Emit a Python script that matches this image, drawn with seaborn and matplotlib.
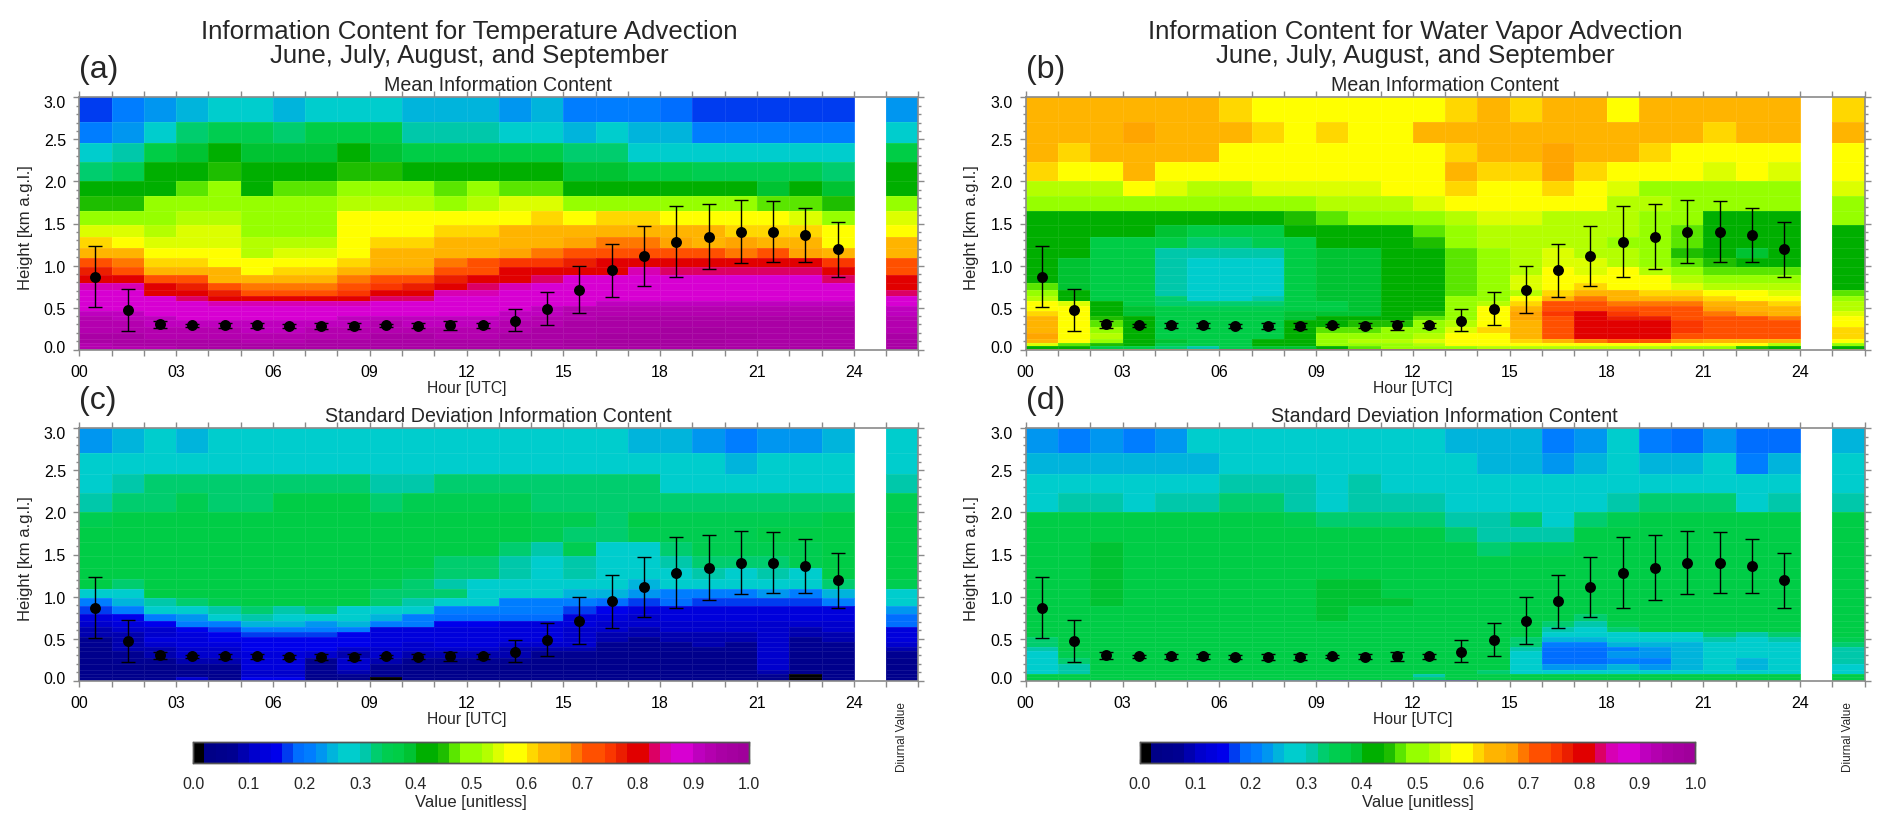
import matplotlib
matplotlib.use('Agg')
import matplotlib.pyplot as plt
from matplotlib.colors import ListedColormap
from matplotlib.ticker import FixedLocator
from matplotlib.transforms import ScaledTranslation
import numpy as np
import pandas as pd
import seaborn as sns

# Height bin edges in km, from the top of the panel down
HEIGHT_EDGES = [3.0, 2.711, 2.457, 2.227, 2.01, 1.823, 1.645, 1.486, 1.343, 1.213, 1.094, 0.983, 0.888, 0.797,
                0.713, 0.642, 0.575, 0.515, 0.456, 0.404, 0.357, 0.27, 0.194, 0.127, 0.08, 0.045, 0.01, 0.0]

# Values in 1/100 unit, one row per height bin, 24 hours and then the diurnal value
TEMP_MEAN = [
    [17, 20, 22, 25, 27, 27, 25, 27, 27, 27, 24, 24, 25, 22, 24, 20, 20, 20, 19, 17, 16, 16, 17, 16, 22],
    [20, 23, 27, 33, 35, 34, 33, 36, 36, 36, 31, 31, 31, 28, 28, 24, 27, 24, 24, 21, 21, 20, 20, 20, 28],
    [28, 30, 37, 39, 41, 39, 39, 39, 41, 39, 37, 37, 37, 36, 36, 32, 33, 27, 27, 27, 27, 26, 27, 27, 36],
    [33, 35, 43, 43, 45, 43, 43, 43, 45, 45, 43, 43, 43, 43, 43, 38, 39, 36, 36, 35, 34, 34, 35, 33, 41],
    [42, 42, 43, 46, 48, 43, 46, 47, 50, 50, 49, 46, 49, 46, 47, 43, 43, 43, 43, 43, 41, 39, 41, 39, 43],
    [45, 44, 49, 51, 51, 48, 51, 51, 53, 53, 52, 51, 53, 54, 55, 49, 51, 50, 50, 51, 50, 46, 47, 44, 49],
    [51, 51, 51, 52, 52, 51, 51, 51, 57, 58, 58, 58, 58, 58, 60, 58, 61, 61, 58, 58, 58, 56, 55, 50, 55],
    [55, 55, 53, 54, 54, 51, 51, 51, 58, 58, 58, 60, 60, 62, 63, 63, 63, 65, 63, 63, 61, 61, 60, 58, 58],
    [61, 58, 55, 55, 54, 52, 53, 53, 58, 61, 61, 63, 63, 63, 65, 67, 69, 69, 67, 65, 66, 65, 63, 59, 63],
    [63, 63, 58, 58, 57, 53, 55, 55, 58, 63, 63, 65, 65, 67, 69, 71, 71, 71, 71, 71, 69, 71, 67, 65, 65],
    [71, 69, 61, 60, 58, 56, 57, 57, 61, 64, 64, 69, 71, 74, 75, 77, 79, 80, 80, 80, 79, 79, 79, 75, 71],
    [77, 73, 63, 62, 62, 59, 61, 61, 65, 67, 67, 71, 73, 79, 80, 81, 81, 84, 83, 83, 83, 83, 83, 80, 73],
    [79, 79, 72, 71, 65, 65, 65, 65, 69, 71, 71, 77, 80, 79, 83, 87, 87, 87, 87, 87, 87, 87, 87, 83, 79],
    [85, 85, 78, 76, 71, 69, 69, 69, 71, 74, 77, 80, 82, 85, 87, 87, 87, 87, 87, 87, 87, 87, 87, 87, 80],
    [87, 87, 80, 79, 77, 73, 73, 73, 75, 79, 80, 84, 84, 87, 87, 87, 87, 87, 87, 87, 87, 87, 87, 87, 83],
    [87, 87, 87, 83, 79, 79, 79, 79, 79, 83, 83, 87, 87, 87, 87, 87, 89, 89, 89, 89, 89, 89, 89, 89, 87],
    [87, 87, 87, 87, 84, 84, 84, 84, 85, 87, 87, 87, 87, 87, 87, 89, 91, 91, 91, 91, 91, 91, 91, 91, 87],
    [89, 87, 87, 87, 87, 87, 87, 87, 87, 89, 89, 89, 89, 89, 91, 93, 93, 93, 93, 93, 93, 93, 93, 93, 91],
    [91, 91, 89, 89, 87, 87, 87, 87, 87, 89, 89, 89, 89, 91, 91, 93, 93, 93, 93, 93, 93, 93, 93, 93, 91],
    [93, 91, 91, 89, 89, 89, 89, 89, 91, 91, 91, 91, 91, 91, 93, 93, 95, 95, 95, 95, 95, 95, 95, 95, 93],
    [93, 93, 91, 91, 91, 91, 91, 91, 91, 93, 91, 91, 91, 93, 93, 95, 95, 95, 95, 95, 95, 95, 95, 95, 93],
    [93, 93, 93, 93, 93, 91, 91, 93, 93, 93, 93, 93, 93, 93, 95, 95, 95, 95, 97, 97, 95, 95, 95, 95, 93],
    [95, 95, 93, 93, 93, 93, 93, 93, 93, 95, 95, 93, 93, 95, 95, 95, 97, 97, 97, 97, 97, 95, 95, 95, 95],
    [95, 95, 95, 95, 95, 93, 93, 95, 95, 95, 95, 95, 95, 95, 95, 97, 97, 97, 97, 97, 95, 95, 95, 95, 95],
    [93, 95, 95, 95, 95, 95, 95, 95, 95, 95, 95, 95, 95, 95, 95, 97, 97, 97, 97, 97, 95, 95, 95, 95, 95],
    [93, 93, 93, 95, 95, 95, 95, 95, 95, 95, 95, 95, 95, 95, 95, 95, 95, 95, 95, 95, 95, 95, 95, 95, 95],
    [93, 93, 93, 93, 93, 93, 93, 93, 93, 93, 93, 93, 93, 93, 93, 93, 93, 93, 93, 93, 93, 93, 93, 93, 93],
]

VAPOR_MEAN = [
    [63, 64, 64, 65, 65, 63, 61, 58, 58, 58, 58, 58, 58, 61, 62, 61, 65, 65, 58, 63, 64, 62, 65, 65, 61],
    [65, 63, 64, 66, 65, 65, 63, 61, 59, 61, 58, 58, 62, 63, 65, 65, 65, 65, 62, 63, 65, 61, 64, 63, 63],
    [62, 60, 63, 65, 64, 62, 58, 58, 58, 58, 58, 58, 59, 60, 63, 63, 66, 64, 62, 60, 58, 58, 58, 58, 59],
    [60, 58, 58, 65, 58, 58, 58, 58, 58, 56, 57, 57, 59, 63, 61, 61, 66, 61, 59, 58, 56, 54, 58, 55, 59],
    [52, 52, 53, 58, 54, 53, 53, 55, 55, 55, 54, 57, 58, 60, 58, 58, 60, 58, 54, 51, 50, 50, 50, 51, 54],
    [51, 49, 49, 51, 50, 50, 51, 51, 51, 52, 53, 53, 54, 58, 58, 58, 58, 58, 53, 52, 50, 50, 50, 48, 51],
    [43, 43, 43, 43, 43, 43, 43, 43, 45, 47, 50, 51, 51, 53, 54, 54, 53, 53, 52, 51, 49, 43, 43, 43, 49],
    [43, 43, 41, 41, 38, 36, 36, 37, 43, 43, 43, 43, 47, 51, 52, 53, 53, 52, 52, 50, 47, 43, 42, 42, 43],
    [41, 41, 37, 37, 36, 33, 33, 34, 37, 41, 41, 42, 45, 50, 52, 53, 53, 52, 50, 49, 46, 41, 40, 41, 43],
    [41, 40, 36, 36, 31, 30, 30, 31, 37, 39, 39, 41, 43, 47, 50, 52, 54, 53, 52, 49, 45, 41, 39, 41, 41],
    [40, 38, 36, 36, 31, 29, 29, 29, 36, 39, 39, 41, 43, 46, 50, 52, 54, 54, 53, 51, 47, 45, 42, 41, 41],
    [40, 38, 36, 36, 31, 28, 28, 28, 36, 38, 38, 41, 43, 47, 50, 52, 56, 55, 57, 53, 50, 47, 46, 47, 41],
    [41, 39, 36, 36, 31, 28, 28, 28, 36, 38, 38, 41, 43, 46, 50, 54, 58, 58, 58, 56, 52, 50, 49, 50, 42],
    [47, 39, 36, 36, 31, 28, 28, 28, 36, 38, 38, 41, 43, 47, 49, 54, 58, 60, 58, 58, 55, 53, 53, 53, 43],
    [50, 40, 37, 36, 31, 29, 29, 29, 36, 38, 38, 41, 43, 47, 50, 52, 60, 65, 62, 61, 60, 58, 57, 54, 47],
    [53, 42, 37, 36, 32, 29, 29, 30, 36, 38, 38, 41, 43, 48, 51, 56, 63, 69, 65, 65, 62, 60, 58, 56, 49],
    [57, 54, 41, 36, 33, 33, 33, 33, 37, 37, 38, 41, 43, 50, 53, 61, 71, 72, 69, 68, 69, 64, 63, 60, 52],
    [59, 57, 43, 38, 36, 34, 34, 34, 37, 37, 38, 41, 43, 50, 56, 65, 73, 73, 71, 71, 71, 67, 65, 63, 53],
    [61, 57, 43, 39, 36, 36, 36, 36, 38, 38, 38, 41, 44, 50, 58, 67, 75, 79, 74, 73, 73, 69, 67, 65, 55],
    [63, 57, 45, 41, 37, 36, 36, 37, 39, 41, 41, 43, 46, 50, 58, 67, 71, 79, 77, 77, 73, 71, 71, 69, 57],
    [65, 57, 47, 42, 37, 36, 36, 37, 41, 43, 44, 45, 48, 52, 59, 65, 73, 79, 79, 79, 75, 73, 71, 71, 59],
    [65, 58, 50, 43, 37, 36, 36, 36, 41, 46, 47, 48, 50, 55, 60, 65, 73, 80, 81, 79, 75, 73, 73, 71, 61],
    [66, 58, 52, 43, 37, 36, 36, 36, 41, 50, 50, 50, 53, 57, 58, 65, 72, 80, 80, 79, 73, 73, 71, 71, 61],
    [62, 58, 50, 43, 38, 36, 36, 41, 43, 50, 53, 53, 55, 58, 59, 60, 65, 69, 72, 70, 67, 63, 63, 63, 59],
    [54, 46, 45, 42, 36, 36, 37, 43, 43, 48, 50, 50, 52, 57, 58, 58, 58, 58, 58, 58, 57, 57, 56, 53, 50],
    [42, 41, 37, 36, 33, 31, 35, 38, 39, 43, 46, 48, 50, 50, 53, 53, 52, 52, 53, 53, 49, 49, 45, 41, 41],
    [65, 65, 65, 65, 65, 65, 79, 79, 79, 79, 79, 79, 79, 79, 79, 75, 60, 60, 60, 60, 60, 60, 60, 60, 60],
]

TEMP_STD = [
    [23, 25, 27, 25, 28, 28, 28, 28, 28, 28, 28, 28, 28, 28, 28, 28, 28, 25, 25, 22, 20, 22, 22, 25, 27],
    [28, 28, 28, 28, 28, 28, 28, 28, 28, 28, 28, 28, 28, 28, 28, 28, 28, 28, 28, 28, 25, 26, 28, 28, 28],
    [28, 31, 32, 32, 32, 32, 33, 32, 32, 31, 31, 33, 33, 32, 32, 32, 32, 32, 28, 28, 28, 28, 28, 28, 31],
    [31, 32, 33, 34, 32, 32, 36, 36, 36, 32, 34, 34, 34, 34, 33, 33, 33, 33, 33, 32, 32, 32, 33, 33, 35],
    [35, 36, 36, 36, 36, 36, 36, 36, 36, 36, 36, 36, 36, 36, 34, 34, 33, 36, 35, 35, 35, 35, 35, 36, 36],
    [36, 36, 36, 36, 36, 36, 36, 36, 36, 36, 36, 36, 36, 36, 34, 33, 33, 35, 35, 35, 35, 36, 36, 36, 36],
    [36, 36, 36, 36, 36, 36, 36, 36, 36, 36, 36, 36, 36, 33, 31, 34, 29, 29, 33, 34, 34, 35, 35, 36, 36],
    [36, 36, 36, 36, 36, 36, 36, 36, 36, 36, 36, 33, 33, 31, 29, 31, 29, 29, 31, 33, 33, 33, 34, 36, 36],
    [36, 36, 36, 36, 36, 36, 36, 36, 36, 36, 34, 32, 32, 31, 28, 31, 29, 27, 29, 31, 29, 31, 29, 36, 36],
    [36, 33, 36, 36, 36, 36, 36, 36, 36, 34, 33, 31, 29, 29, 28, 28, 27, 25, 27, 27, 27, 29, 28, 33, 34],
    [28, 28, 36, 36, 36, 36, 36, 36, 36, 33, 33, 33, 28, 28, 27, 25, 24, 23, 21, 21, 21, 22, 21, 24, 28],
    [20, 24, 31, 33, 34, 36, 36, 36, 36, 33, 31, 27, 26, 21, 20, 20, 19, 17, 18, 17, 17, 17, 17, 21, 27],
    [17, 20, 27, 28, 31, 33, 31, 32, 29, 28, 28, 20, 20, 20, 21, 17, 15, 13, 13, 13, 13, 13, 13, 13, 23],
    [13, 15, 20, 23, 28, 30, 28, 28, 28, 24, 21, 19, 19, 19, 19, 13, 13, 11, 13, 13, 12, 12, 12, 13, 19],
    [11, 12, 15, 20, 21, 24, 24, 23, 24, 20, 20, 15, 15, 13, 13, 13, 11, 11, 11, 11, 11, 11, 11, 11, 19],
    [9, 11, 11, 15, 17, 20, 21, 21, 20, 13, 13, 13, 13, 13, 13, 11, 11, 9, 11, 11, 11, 11, 9, 11, 13],
    [9, 9, 11, 13, 15, 16, 17, 17, 15, 13, 13, 13, 13, 13, 13, 11, 9, 9, 9, 9, 9, 11, 9, 9, 13],
    [7, 9, 13, 13, 14, 15, 15, 15, 15, 13, 13, 13, 13, 13, 13, 11, 9, 7, 9, 9, 9, 11, 7, 9, 13],
    [7, 9, 11, 13, 13, 15, 15, 15, 15, 13, 11, 13, 13, 11, 11, 11, 7, 7, 7, 9, 7, 11, 7, 7, 11],
    [5, 9, 9, 11, 11, 15, 14, 14, 11, 11, 11, 11, 11, 9, 9, 9, 7, 5, 7, 7, 7, 11, 7, 7, 9],
    [5, 7, 9, 11, 11, 13, 13, 11, 9, 11, 9, 9, 9, 9, 7, 7, 5, 5, 5, 5, 5, 11, 5, 5, 7],
    [5, 7, 7, 9, 9, 13, 13, 7, 11, 9, 7, 7, 7, 7, 5, 5, 5, 5, 5, 5, 5, 11, 5, 5, 5],
    [5, 5, 5, 7, 7, 13, 13, 7, 11, 7, 5, 5, 5, 5, 5, 5, 5, 5, 5, 5, 5, 11, 5, 5, 5],
    [5, 5, 5, 7, 7, 11, 11, 7, 9, 7, 5, 5, 5, 5, 5, 5, 5, 5, 5, 5, 5, 9, 5, 5, 5],
    [5, 5, 5, 7, 5, 11, 11, 5, 7, 5, 5, 5, 5, 5, 5, 5, 5, 5, 5, 5, 5, 7, 1, 5, 5],
    [5, 5, 7, 11, 7, 15, 15, 5, 5, 1, 5, 5, 5, 5, 5, 5, 5, 5, 5, 5, 5, 5, 1, 5, 5],
    [9, 9, 9, 11, 9, 13, 13, 7, 7, 7, 7, 7, 7, 7, 7, 7, 7, 7, 7, 7, 7, 7, 7, 7, 7],
]

VAPOR_STD = [
    [23, 20, 23, 21, 22, 26, 27, 27, 28, 28, 28, 28, 28, 25, 25, 24, 20, 23, 27, 21, 19, 22, 19, 19, 25],
    [24, 24, 25, 24, 25, 25, 27, 27, 27, 27, 28, 28, 28, 28, 25, 24, 22, 25, 27, 25, 24, 27, 21, 24, 28],
    [28, 28, 28, 28, 28, 28, 31, 31, 30, 28, 31, 28, 28, 28, 28, 28, 28, 28, 28, 28, 28, 28, 28, 28, 28],
    [28, 30, 31, 29, 31, 30, 33, 33, 31, 29, 31, 31, 30, 28, 28, 28, 28, 28, 30, 33, 33, 33, 28, 31, 31],
    [36, 36, 36, 36, 36, 36, 36, 36, 34, 33, 33, 33, 33, 31, 31, 33, 28, 33, 34, 36, 36, 36, 36, 36, 36],
    [36, 36, 36, 36, 36, 36, 36, 36, 36, 36, 36, 36, 36, 33, 31, 31, 31, 36, 36, 36, 36, 36, 36, 36, 36],
    [36, 37, 38, 37, 36, 36, 36, 36, 36, 36, 36, 36, 36, 36, 33, 35, 35, 36, 36, 36, 36, 36, 36, 36, 36],
    [36, 37, 38, 37, 36, 36, 36, 36, 36, 36, 36, 36, 36, 36, 36, 36, 36, 36, 36, 36, 36, 36, 36, 36, 36],
    [36, 37, 38, 37, 36, 36, 36, 36, 36, 37, 37, 36, 36, 36, 36, 36, 36, 36, 36, 36, 36, 36, 36, 36, 36],
    [36, 37, 38, 37, 36, 36, 36, 36, 37, 38, 38, 37, 37, 36, 36, 36, 36, 36, 36, 36, 36, 36, 36, 36, 36],
    [36, 37, 38, 37, 36, 36, 36, 36, 37, 38, 38, 37, 37, 36, 36, 36, 36, 36, 36, 36, 36, 36, 36, 36, 36],
    [36, 36, 38, 36, 36, 36, 36, 36, 37, 38, 38, 38, 37, 36, 36, 36, 36, 36, 36, 36, 36, 36, 36, 36, 36],
    [36, 36, 37, 36, 36, 36, 36, 36, 36, 38, 37, 37, 36, 36, 36, 36, 36, 36, 36, 36, 36, 36, 36, 36, 36],
    [36, 36, 36, 36, 36, 36, 36, 36, 36, 38, 37, 37, 36, 36, 36, 36, 36, 33, 36, 36, 36, 36, 36, 36, 36],
    [36, 36, 36, 36, 36, 36, 36, 36, 36, 37, 37, 37, 36, 36, 36, 36, 33, 31, 35, 36, 36, 36, 36, 36, 36],
    [36, 36, 36, 36, 36, 36, 36, 36, 36, 36, 36, 36, 36, 36, 36, 36, 31, 28, 33, 36, 36, 36, 36, 36, 36],
    [36, 36, 36, 36, 36, 36, 36, 36, 36, 36, 36, 36, 36, 36, 36, 36, 28, 28, 28, 28, 28, 33, 31, 33, 36],
    [33, 36, 36, 36, 36, 36, 36, 36, 36, 36, 36, 36, 36, 36, 36, 33, 25, 25, 27, 27, 27, 31, 29, 31, 35],
    [33, 36, 36, 36, 36, 36, 36, 36, 36, 36, 36, 36, 36, 36, 36, 32, 21, 20, 24, 25, 25, 29, 28, 29, 33],
    [31, 36, 36, 36, 36, 36, 36, 36, 36, 36, 36, 36, 36, 36, 36, 30, 19, 19, 21, 23, 24, 28, 28, 28, 31],
    [28, 35, 36, 36, 36, 36, 36, 36, 36, 36, 36, 36, 36, 36, 36, 28, 18, 19, 22, 22, 24, 28, 28, 28, 31],
    [28, 33, 36, 36, 36, 36, 36, 36, 36, 36, 36, 36, 36, 36, 36, 27, 19, 19, 21, 20, 24, 28, 25, 28, 31],
    [28, 31, 36, 36, 36, 36, 36, 36, 36, 36, 36, 36, 36, 36, 36, 27, 22, 22, 24, 22, 25, 27, 25, 28, 29],
    [28, 31, 36, 36, 36, 36, 36, 36, 36, 36, 36, 36, 36, 36, 33, 28, 28, 28, 27, 27, 28, 28, 28, 28, 29],
    [36, 36, 36, 36, 36, 36, 36, 36, 36, 36, 36, 36, 31, 36, 36, 36, 36, 36, 36, 36, 36, 36, 36, 36, 36],
    [36, 36, 36, 36, 36, 36, 36, 36, 36, 36, 36, 36, 33, 36, 36, 36, 36, 36, 36, 36, 36, 36, 36, 36, 36],
    [36, 36, 36, 36, 36, 25, 25, 25, 25, 15, 15, 15, 15, 15, 36, 36, 36, 36, 36, 36, 36, 36, 36, 36, 36],
]

# Black dots with error bars, same in all four panels
DOT_HEIGHT = [0.868, 0.476, 0.30, 0.29, 0.29, 0.29, 0.285, 0.285, 0.285, 0.29, 0.285, 0.29, 0.29, 0.345, 0.483,
              0.713, 0.943, 1.118, 1.28, 1.343, 1.403, 1.403, 1.363, 1.193]
DOT_UPPER = [1.237, 0.72, 0.345, 0.31, 0.32, 0.32, 0.31, 0.32, 0.32, 0.31, 0.315, 0.345, 0.32, 0.483, 0.68,
             0.995, 1.256, 1.474, 1.704, 1.736, 1.776, 1.768, 1.688, 1.522]
DOT_LOWER = [0.503, 0.226, 0.255, 0.27, 0.26, 0.26, 0.26, 0.25, 0.25, 0.27, 0.255, 0.235, 0.26, 0.222, 0.293,
             0.44, 0.63, 0.761, 0.864, 0.959, 1.034, 1.042, 1.042, 0.86]

HOUR_TICKS = [0, 3, 6, 9, 12, 15, 18, 21, 24]

# One colour for every 0.02 of the colour bar
COLORS = ['#000000', '#000087', '#00008c', '#000091', '#0000af', '#0000cd', '#0000dc', '#0000eb', '#003cf0', '#006eff',
          '#007dff', '#0096f0', '#00b4dc', '#00cdcd', '#00cdcd', '#00c8aa', '#00cd6e', '#00cd50', '#00cd46', '#00c332',
          '#00af00', '#00af00', '#1ebe00', '#5ae600', '#96ff00', '#96ff00', '#b4ff00', '#dcff00', '#ffff00', '#ffff00',
          '#ffd700', '#ffb400', '#ffb400', '#ffa500', '#ff7800', '#ff5000', '#ff5000', '#fa3700', '#eb1e00', '#e10000',
          '#e10000', '#dc0064', '#d700b4', '#d700d2', '#d700d2', '#be00be', '#b400af', '#aa00a5', '#a500a0', '#a0009b']

W, H = 1892, 828
GRAY = '#8a8a8a'

sns.set_theme(style='white')
plt.rcParams['font.family'] = ['Liberation Sans', 'DejaVu Sans']
cmap = ListedColormap(COLORS)

edges = np.array(HEIGHT_EDGES)
depth = 3.0 - edges
row_pos = np.arange(len(edges), dtype=float)


def idx_to_depth(v):
    return np.interp(v, row_pos, depth)


def depth_to_idx(v):
    return np.interp(v, depth, row_pos)


def height_to_row(h):
    return depth_to_idx(3.0 - np.asarray(h, dtype=float))


def pixel_axes(fig, left, top, right, bottom):
    return fig.add_axes([left / W, 1 - bottom / H, (right - left) / W, (bottom - top) / H])


def draw_panel(fig, values, left, top, subtitle, letter, cax=None):
    ax = pixel_axes(fig, left, top, left + 26 * 32.27, top + 252.4)
    table = np.array(values, dtype=float) / 100.0
    # empty column between hour 24 and the diurnal column
    table = np.insert(table, 24, np.nan, axis=1)
    frame = pd.DataFrame(table)
    sns.heatmap(frame, ax=ax, cmap=cmap, vmin=0, vmax=1, xticklabels=False, yticklabels=False,
                linewidths=0.4, linecolor=(1, 1, 1, 0.08),
                cbar=cax is not None, cbar_ax=cax,
                cbar_kws={'orientation': 'horizontal', 'ticks': np.arange(0, 1.01, 0.1), 'format': '%.1f'}
                if cax is not None else {})
    ax.set_yscale('function', functions=(idx_to_depth, depth_to_idx))
    ax.set_ylim(len(edges) - 1, 0)
    ax.set_xlim(0, 26)

    hours = np.arange(24) + 0.5
    y = height_to_row(DOT_HEIGHT)
    upper = height_to_row(DOT_UPPER)
    lower = height_to_row(DOT_LOWER)
    ax.errorbar(hours, y, yerr=[y - upper, lower - y], fmt='none', ecolor='black', elinewidth=1.0,
                capsize=5, capthick=1.0, zorder=5)
    sns.scatterplot(x=hours, y=y, ax=ax, color='black', s=62, linewidth=0, zorder=6, legend=False)

    # ticks on all four sides, as in the original
    ax.xaxis.set_major_locator(FixedLocator(list(range(27))))
    ax.set_xticklabels([str(h).zfill(2) if h in HOUR_TICKS else '' for h in range(27)])
    ax.yaxis.set_major_locator(FixedLocator(height_to_row([0, 0.5, 1.0, 1.5, 2.0, 2.5, 3.0])))
    ax.yaxis.set_minor_locator(FixedLocator(height_to_row([i / 10 for i in range(31)])))
    labels = ax.set_yticklabels(['0.0', '0.5', '1.0', '1.5', '2.0', '2.5', '3.0'])
    ax.tick_params(axis='both', which='major', direction='out', length=4.5, width=1, color=GRAY,
                   labelsize=11.5, labelcolor='black', bottom=True, top=True, left=True, right=True, pad=5)
    ax.tick_params(axis='x', pad=6)
    ax.tick_params(axis='y', which='minor', direction='out', length=2.5, width=1, color=GRAY,
                   left=True, right=True)
    # end labels sit inside the axis range
    labels[0].set_transform(labels[0].get_transform() + ScaledTranslation(0, 4 / 100, fig.dpi_scale_trans))
    labels[-1].set_transform(labels[-1].get_transform() + ScaledTranslation(0, -3.7 / 100, fig.dpi_scale_trans))
    for spine in ax.spines.values():
        spine.set_visible(True)
        spine.set_color(GRAY)
        spine.set_linewidth(1.2)

    fig.text((left + 24 * 16.13) / W, 1 - (top + 290.5) / H, 'Hour [UTC]', ha='center', va='center', fontsize=11.3)
    fig.text((left - 54) / W, 1 - (top + 129) / H, 'Height [km a.g.l.]', ha='center', va='center', rotation=90,
             fontsize=12)
    fig.text((left + 419) / W, 1 - (top - 13) / H, subtitle, ha='center', va='center', fontsize=14.1)
    fig.text((left + letter[0]) / W, 1 - (top + letter[1]) / H, letter[2], ha='left', va='center', fontsize=23)
    return ax


fig = plt.figure(figsize=(W / 100, H / 100), dpi=100)

OFFSET = 946.4
TOP_ROW = 98.3
BOTTOM_ROW = 429.3

cax_left = pixel_axes(fig, 193.3, 743.3, 749, 764.3)
cax_right = pixel_axes(fig, 193.3 + OFFSET, 743.3, 749 + OFFSET, 764.3)

draw_panel(fig, TEMP_MEAN, 79.3, TOP_ROW, 'Mean Information Content', (0, -28, '(a)'))
draw_panel(fig, VAPOR_MEAN, 79.3 + OFFSET, TOP_ROW, 'Mean Information Content', (0, -28, '(b)'))
draw_panel(fig, TEMP_STD, 79.3, BOTTOM_ROW, 'Standard Deviation Information Content', (0, -28, '(c)'), cax_left)
draw_panel(fig, VAPOR_STD, 79.3 + OFFSET, BOTTOM_ROW, 'Standard Deviation Information Content', (0, -28, '(d)'), cax_right)

for cax in (cax_left, cax_right):
    cax.tick_params(axis='x', direction='in', length=3, width=1, color=GRAY, labelsize=11.5, top=True, bottom=True, pad=9)
    cax.set_xlabel('Value [unitless]', fontsize=12, labelpad=2)
    for spine in cax.spines.values():
        spine.set_visible(True)
        spine.set_color('#555555')
        spine.set_linewidth(1.0)

fig.text(469 / W, 1 - 32 / H, 'Information Content for Temperature Advection', ha='center', va='center', fontsize=18.6)
fig.text(469 / W, 1 - 56.5 / H, 'June, July, August, and September', ha='center', va='center', fontsize=18.6)
fig.text(1415.4 / W, 1 - 32 / H, 'Information Content for Water Vapor Advection', ha='center', va='center', fontsize=18.6)
fig.text(1415.4 / W, 1 - 56.5 / H, 'June, July, August, and September', ha='center', va='center', fontsize=18.6)

for x_pos in (902, 902 + OFFSET):
    fig.text(x_pos / W, 1 - 737 / H, 'Diurnal Value', ha='center', va='center', rotation=90, fontsize=8.5)

fig.savefig('out.png', dpi=100)
